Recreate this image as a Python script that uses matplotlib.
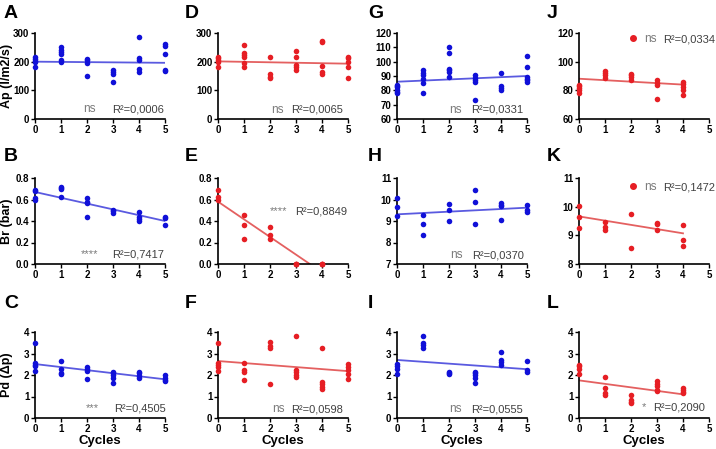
import matplotlib
matplotlib.use("Agg")
import matplotlib.pyplot as plt
from matplotlib.lines import Line2D

plt.rcParams['font.family'] = ['Liberation Sans', 'DejaVu Sans']

BLUE = '#1010d8'
BLUE_LINE = '#5a5ae0'
RED = '#e61e24'
RED_LINE = '#e46060'
GREY = '#7a7a7a'
DARK = '#404040'

# values per cycle (index = cycle number)
A_ap = [[215, 210, 203, 198, 182], [250, 242, 235, 228, 205, 198], [210, 205, 196, 150],
        [172, 165, 157, 130], [285, 212, 205, 173, 165], [262, 255, 228, 172, 166]]
D_ap = [[218, 212, 205, 200, 183], [258, 230, 222, 215, 195, 183], [215, 157, 148, 142],
        [238, 218, 187, 180, 172], [272, 268, 185, 163, 157], [218, 213, 198, 180, 142]]
G_ap = [[84, 83, 82, 80.5, 79, 78], [94.5, 92, 90.5, 88, 85, 78], [110, 106, 95, 94, 93, 89],
        [91, 88.5, 87, 85.5, 73.5], [92, 83, 81.5, 80], [104, 96.5, 89.5, 88, 87, 86]]
J_ap = [[84, 83, 81.5, 80, 78], [93.5, 92, 90.5, 88.5], [91.5, 90.5, 89, 87.5],
        [87, 85, 83.5, 74], [85.5, 84.5, 82.5, 80.5, 76.5]]

B_br = [[0.69, 0.68, 0.61, 0.60], [0.72, 0.71, 0.70, 0.62], [0.61, 0.58, 0.565, 0.44],
        [0.50, 0.49, 0.47], [0.48, 0.44, 0.42, 0.40], [0.44, 0.43, 0.36]]
E_br = [[0.69, 0.62, 0.60], [0.46, 0.36, 0.23], [0.34, 0.27, 0.23], [0, 0, 0], [0, 0, 0]]
H_br = [[10.05, 9.65, 9.25], [9.3, 8.85, 8.35], [9.78, 9.5, 9.02], [10.45, 9.87, 8.85],
        [9.84, 9.75, 9.68, 9.05], [9.74, 9.5, 9.43]]
K_br = [[10.03, 9.64, 9.24], [9.45, 9.3, 9.2], [9.73, 8.55], [9.44, 9.4, 9.19],
        [9.35, 8.84, 8.63]]

C_pd = [[3.48, 2.57, 2.47, 2.4, 2.2], [2.67, 2.3, 2.07, 2.03], [2.37, 2.3, 2.2, 1.83],
        [2.15, 2.07, 1.99, 1.88, 1.63], [2.15, 2.07, 1.95, 1.88], [1.98, 1.88, 1.76, 1.72]]
F_pd = [[3.48, 2.55, 2.45, 2.37, 2.18], [2.55, 2.21, 2.16, 1.79], [3.53, 3.35, 3.25, 1.59],
        [3.8, 2.24, 2.13, 2.02, 1.93], [3.27, 1.67, 1.56, 1.43, 1.35], [2.52, 2.37, 2.21, 2.05, 1.82]]
I_pd = [[2.5, 2.42, 2.28, 2.03], [3.82, 3.5, 3.4, 3.25], [2.12, 2.07, 2.03],
        [2.16, 2.07, 1.99, 1.87, 1.63], [3.05, 2.7, 2.62, 2.46], [2.65, 2.22, 2.14]]
L_pd = [[2.48, 2.4, 2.26, 2.03], [1.9, 1.4, 1.18, 1.08], [1.05, 0.83, 0.75, 0.68],
        [1.7, 1.57, 1.47, 1.29, 1.24], [1.4, 1.32, 1.22, 1.16]]

# regression line: value at first and last cycle
fit_lines = {'A': (200, 196), 'D': (201, 193), 'G': (86, 90), 'J': (88.1, 84),
             'B': (0.67, 0.40), 'E': (0.58, -0.077), 'H': (9.31, 9.62), 'K': (9.66, 9.07),
             'C': (2.51, 1.80), 'F': (2.65, 2.18), 'I': (2.7, 2.27), 'L': (1.75, 1.10)}

signif = {'A': 'ns', 'D': 'ns', 'G': 'ns', 'J': 'ns', 'B': '****', 'E': '****',
          'H': 'ns', 'K': 'ns', 'C': '***', 'F': 'ns', 'I': 'ns', 'L': '*'}
r2 = {'A': '0,0006', 'D': '0,0065', 'G': '0,0331', 'J': '0,0334', 'B': '0,7417', 'E': '0,8849',
      'H': '0,0370', 'K': '0,1472', 'C': '0,4505', 'F': '0,0598', 'I': '0,0555', 'L': '0,2090'}

panels = [['A', 'D', 'G', 'J'], ['B', 'E', 'H', 'K'], ['C', 'F', 'I', 'L']]
data = {'A': A_ap, 'D': D_ap, 'G': G_ap, 'J': J_ap, 'B': B_br, 'E': E_br, 'H': H_br,
        'K': K_br, 'C': C_pd, 'F': F_pd, 'I': I_pd, 'L': L_pd}
ylims = {'A': (0, 300, [0, 100, 200, 300]), 'D': (0, 300, [0, 100, 200, 300]),
         'G': (60, 120, [60, 70, 80, 90, 100, 110, 120]), 'J': (60, 120, [60, 80, 100, 120]),
         'B': (0, 0.8, [0.0, 0.2, 0.4, 0.6, 0.8]), 'E': (0, 0.8, [0.0, 0.2, 0.4, 0.6, 0.8]),
         'H': (7, 11, [7, 8, 9, 10, 11]), 'K': (8, 11, [8, 9, 10, 11]),
         'C': (0, 4, [0, 1, 2, 3, 4]), 'F': (0, 4, [0, 1, 2, 3, 4]),
         'I': (0, 4, [0, 1, 2, 3, 4]), 'L': (0, 4, [0, 1, 2, 3, 4])}
# annotation positions (x of significance, x of R2, y) in data units
text_pos = {'A': (1.85, 2.95, 34), 'D': (2.05, 2.83, 32), 'G': (2.0, 2.85, 66.5),
            'J': (2.4, 3.25, 115.5), 'B': (1.75, 2.95, 0.09), 'E': (2.0, 2.95, 0.49),
            'H': (2.05, 2.9, 7.4), 'K': (2.5, 3.25, 10.67), 'C': (1.95, 3.05, 0.45),
            'F': (2.1, 2.8, 0.4), 'I': (2.0, 2.85, 0.4), 'L': (2.4, 2.85, 0.5)}
ylabels = ['Ap (l/m2/s)', 'Br (bar)', 'Pd (\u0394p)']

W, H = 716, 449
fig = plt.figure(figsize=(W / 100, H / 100), dpi=100)
col_left = [35, 218, 397, 579]
col_width = 130
row_top = [33, 178, 332]
row_height = 86
letter_x = [4, 185, 368, 547]
letter_y = [5, 148, 295]

for r, row in enumerate(panels):
    for c, key in enumerate(row):
        ax = fig.add_axes([col_left[c] / W, 1 - (row_top[r] + row_height) / H,
                           col_width / W, row_height / H])
        color = BLUE if c in (0, 2) else RED
        lcolor = BLUE_LINE if c in (0, 2) else RED_LINE
        vals = data[key]
        for cyc, ys in enumerate(vals):
            ax.scatter([cyc] * len(ys), ys, s=16, color=color, zorder=3,
                       clip_on=False, linewidths=0)
        y0, y1 = fit_lines[key]
        ax.plot([0, len(vals) - 1], [y0, y1], color=lcolor, lw=1.3, zorder=2)

        lo, hi, ticks = ylims[key]
        ax.set_ylim(lo, hi)
        ax.set_yticks(ticks)
        ax.set_xlim(0, 5)
        ax.set_xticks(range(6))
        for sp in ('top', 'right'):
            ax.spines[sp].set_visible(False)
        for sp in ('left', 'bottom'):
            ax.spines[sp].set_linewidth(1.2)
        ax.tick_params(length=3, width=1, labelsize=7, pad=1)
        for lab in ax.get_xticklabels() + ax.get_yticklabels():
            lab.set_fontweight('bold')

        sx, rx, ty = text_pos[key]
        if key in ('J', 'K'):
            ax.legend(handles=[Line2D([], [], ls='none', marker='o', ms=4, color=color)],
                      labels=[signif[key]], loc='center left', frameon=False,
                      bbox_to_anchor=(0.33, (ty - lo) / (hi - lo)), handlelength=0.8,
                      handletextpad=0.6, borderpad=0, labelcolor=GREY,
                      prop={'size': 8.5})
        else:
            ax.text(sx, ty, signif[key], color=GREY, fontsize=8.5 if signif[key] == 'ns' else 8,
                    ha='left', va='center')
        ax.text(rx, ty, 'R\u00b2=' + r2[key], color=DARK, fontsize=8, ha='left', va='center')

        if c == 0:
            fig.text(7 / W, 1 - (row_top[r] + row_height / 2) / H, ylabels[r],
                     fontsize=9, fontweight='bold', rotation=90,
                     ha='center', va='center')
        if r == 2:
            ax.set_xlabel('Cycles', fontsize=9.5, fontweight='bold', labelpad=1)

        fig.text(letter_x[c] / W, 1 - letter_y[r] / H, key, fontsize=14,
                 fontweight='bold', va='top', ha='left')

fig.savefig('out.png', dpi=100)
